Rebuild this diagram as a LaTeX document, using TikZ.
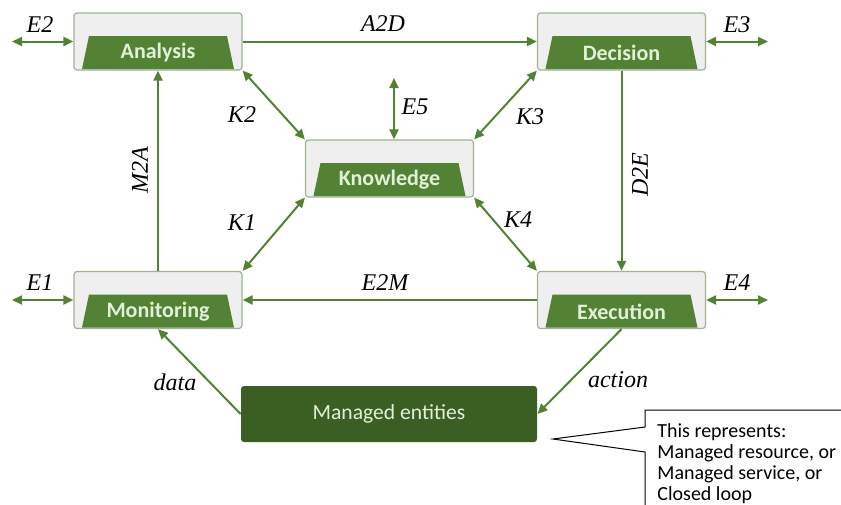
\documentclass[tikz,border=0pt]{standalone}
\usepackage{fontspec}
\setmainfont{Liberation Serif}
\newfontfamily\calfont{Carlito}
\usetikzlibrary{arrows.meta}

\definecolor{loopgreen}{HTML}{548235}
\definecolor{darkgreen}{HTML}{3B5E22}
\definecolor{boxgray}{HTML}{EFEFEF}
\definecolor{boxline}{HTML}{9DB494}
\definecolor{paletext}{HTML}{E2F0D9}

\tikzset{
  fnbox/.style={draw=boxline, fill=boxgray, rounded corners=1.5pt,
    minimum width=84pt, minimum height=28.5pt, inner sep=0pt, line width=0.6pt},
  fnlabel/.style={text=paletext, inner sep=0pt,
    font=\calfont\bfseries\fontsize{11}{13}\selectfont},
  flow/.style={draw=loopgreen, line width=1pt},
  lbl/.style={font=\itshape\fontsize{12}{14}\selectfont, inner sep=0pt},
}

\begin{document}
\begin{tikzpicture}[x=0.5pt, y=-0.5pt, >={Triangle[length=5pt,width=4.5pt]}]
  \useasboundingbox (0,0) rectangle (841,504);
  \clip (0,0) rectangle (841,504);

  % Function blocks: grey box, green trapezium, name.
  \foreach \nm/\cx/\cy/\txt in {ana/158/41.5/Analysis, dec/621.5/41.5/Decision,
      kno/389.5/168.5/Knowledge, mon/158/300/Monitoring, exe/621.5/300/Execution}{
    \node[fnbox] (\nm) at (\cx,\cy) {};
    \fill[loopgreen] (\cx-69,\cy-5.5) -- (\cx+69,\cy-5.5)
      -- (\cx+76,\cy+27.5) -- (\cx-76,\cy+27.5) -- cycle;
    \node[fnlabel] (\nm-name) at (\cx,\cy+11.5) {\txt};
  }

  % Managed entities and the note.
  \node[fill=darkgreen, rounded corners=1.5pt, minimum width=148pt,
    minimum height=28pt, text=paletext,
    font=\calfont\fontsize{10.8}{12}\selectfont] (me) at (389,414) {Managed entities};
  \draw[black, line width=0.5pt] (850,410) -- (645,410) -- (645,427)
    -- (553,439) -- (645,452) -- (645,520);
  \node[anchor=north west, align=left, inner sep=0pt,
    font=\calfont\fontsize{10}{10.6}\selectfont] (note) at (657,423)
    {This represents:\\Managed resource, or\\Managed service, or\\Closed loop};

  % Free ends of the external arrows.
  \coordinate (e2-end) at (12,41.5);
  \coordinate (e3-end) at (768,41.5);
  \coordinate (e1-end) at (12,300);
  \coordinate (e4-end) at (768,300);
  \coordinate (e5-end) at (394,78);

  % Connectors.
  \draw[flow, <->] (e2-end) -- (ana.west);
  \draw[flow, <->] (dec.east) -- (e3-end);
  \draw[flow, <->] (e1-end) -- (mon.west);
  \draw[flow, <->] (exe.east) -- (e4-end);
  \draw[flow, <->] (e5-end) -- (e5-end |- kno.north);
  \draw[flow, ->] (ana.east) -- (dec.west);
  \draw[flow, ->] (exe.west) -- (mon.east);
  \draw[flow, ->] (mon.north) -- (ana.south);
  \draw[flow, ->] (dec.south) -- (exe.north);
  \draw[flow, <->] (ana.south east) -- (kno.north west);
  \draw[flow, <->] (dec.south west) -- (kno.north east);
  \draw[flow, <->] (kno.south west) -- (mon.north east);
  \draw[flow, <->] (kno.south east) -- (exe.north west);
  \draw[flow, ->] (me.west) -- (mon.south);
  \draw[flow, ->] (exe.south) -- (me.east);

  % Labels.
  \node[lbl] (l-e2) at (40,25) {E2};
  \node[lbl] (l-e3) at (737,25) {E3};
  \node[lbl] (l-a2d) at (383,24) {A2D};
  \node[lbl] (l-e5) at (415,107) {E5};
  \node[lbl] (l-k2) at (242,115) {K2};
  \node[lbl] (l-k3) at (530,117) {K3};
  \node[lbl, rotate=90] (l-m2a) at (140,170) {M2A};
  \node[lbl, rotate=90] (l-d2e) at (640,175) {D2E};
  \node[lbl] (l-k1) at (242,223) {K1};
  \node[lbl] (l-k4) at (518,220) {K4};
  \node[lbl] (l-e1) at (40,283) {E1};
  \node[lbl] (l-e2m) at (385,283) {E2M};
  \node[lbl] (l-e4) at (737,283) {E4};
  \node[lbl] (l-data) at (175,382) {data};
  \node[lbl] (l-action) at (618,380) {action};
\end{tikzpicture}
\end{document}
